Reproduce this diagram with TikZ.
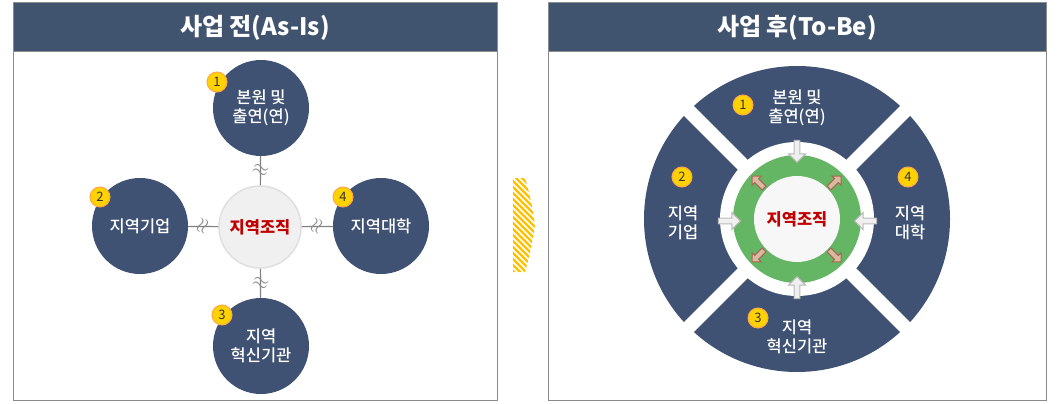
\documentclass[tikz,border=0pt]{standalone}
\usepackage{fontspec}
\setmainfont{Noto Sans CJK KR}
\newfontfamily\krmed{Noto Sans CJK KR Medium}
\usetikzlibrary{shapes.arrows}

\definecolor{navy}{HTML}{41546F}
\definecolor{ball}{HTML}{3F5273}
\definecolor{ringgreen}{HTML}{64B564}
\definecolor{kred}{HTML}{C00000}
\definecolor{gold}{HTML}{FFD200}
\definecolor{rust}{HTML}{A8664E}
\definecolor{tanfill}{HTML}{D9B9A2}
\definecolor{hatch}{HTML}{FFC000}

\tikzset{
  panel/.style={draw=gray!90, line width=1},
  head/.style={fill=navy, draw=gray!90, line width=1},
  title/.style={text=white, font=\bfseries\fontsize{24}{27}\selectfont},
  org/.style={circle, fill=ball, minimum size=96, inner sep=0, text=white, align=center, font=\krmed\fontsize{16.5}{19}\selectfont},
  hub/.style={circle, fill=gray!12, draw=gray!25, line width=1.5, minimum size=82, inner sep=0, text=kred, font=\bfseries\fontsize{16.5}{19}\selectfont},
  num/.style={circle, fill=gold, draw=orange!70, line width=1, minimum size=20, inner sep=0, text=black!80, font=\fontsize{13}{13}\selectfont},
  link/.style={draw=gray, line width=1.2},
  brk/.style={inner sep=0, text=gray!90, font=\fontsize{22}{22}\selectfont},
  seg/.style={text=white, align=center, font=\krmed\fontsize{16.5}{19}\selectfont},
  inarr/.style={single arrow, fill=gray!12, draw=gray!55, line width=1, minimum height=22, minimum width=17, single arrow head extend=3, inner sep=1},
  outarr/.style={single arrow, fill=tanfill, draw=rust, line width=1, minimum height=17, minimum width=13, single arrow head extend=2, inner sep=1}
}

\begin{document}
\begin{tikzpicture}[x=1pt,y=-1pt]
    \fill[white] (0,0) rectangle (1060,404);
    \useasboundingbox (0,0) rectangle (1060,404);

    % left panel: before
    \draw[panel] (13,52) rectangle (497,400);
    \draw[head] (13,3) rectangle (497,52);
    \node[title] (ttlA) at (255,28) {사업 전(As-Is)};

    \node[hub] (hubA) at (260,227) {지역조직};
    \node[org] (topA) at (261,108) {본원 및\\출연(연)};
    \node[org] (lftA) at (140,226) {지역기업};
    \node[org] (rgtA) at (381,226) {지역대학};
    \node[org] (botA) at (261,346) {지역\\혁신기관};

    \node[num] (n1A) at (217,82) {1};
    \node[num] (n2A) at (100,197) {2};
    \node[num] (n4A) at (343,197) {4};
    \node[num] (n3A) at (222,315) {3};

    \draw[link] (hubA) -- node[brk, rotate=-20] (b1) {$\approx$} (topA);
    \draw[link] (hubA) -- node[brk, rotate=70] (b2) {$\approx$} (lftA);
    \draw[link] (hubA) -- node[brk, rotate=70] (b4) {$\approx$} (rgtA);
    \draw[link] (hubA) -- node[brk, rotate=-20] (b3) {$\approx$} (botA);

    % hatched arrow between the panels
    \begin{scope}
      \clip (513,178) -- (525,178) .. controls (531,200) .. (535,225)
          .. controls (531,250) .. (525,272) -- (513,272) -- cycle;
      \foreach \k in {150,156,...,300}
        \draw[hatch, line width=2.2] (500,\k) -- (550,\k+50);
    \end{scope}

    % right panel: after
    \draw[panel] (548,52) rectangle (1046,400);
    \draw[head] (548,3) rectangle (1046,52);
    \node[title] (ttlB) at (797,28) {사업 후(To-Be)};

    \coordinate (cB) at (797,219);
    \fill[ball] (cB) circle [radius=153];
    \draw[white, line width=14] (cB) ++(45:165) -- ++(225:330); % X gap
    \draw[white, line width=14] (cB) ++(135:165) -- ++(315:330);
    \fill[white] (cB) circle [radius=77];
    \fill[ringgreen] (cB) circle [radius=64];
    \fill[gray!6] (cB) circle [radius=43];
    \node[text=kred, font=\bfseries\fontsize{16.5}{19}\selectfont] (hubB) at (cB) {지역조직};

    \node[seg] (topB) at (797,108) {본원 및\\출연(연)};
    \node[seg] (lftB) at (683,223) {지역\\기업};
    \node[seg] (rgtB) at (910,223) {지역\\대학};
    \node[seg] (botB) at (797,337) {지역\\혁신기관};

    \node[num] (n1B) at (743,105) {1};
    \node[num] (n2B) at (682,177) {2};
    \node[num] (n4B) at (908,177) {4};
    \node[num] (n3B) at (758,318) {3};

    \node[inarr, rotate=-90] (aT) at (797,150) {};
    \node[inarr] (aL) at (728,221) {};
    \node[inarr, rotate=180] (aR) at (867,221) {};
    \node[inarr, rotate=90] (aB) at (797,289) {};

    \node[outarr, rotate=135] (oNW) at (759,183) {};
    \node[outarr, rotate=45] (oNE) at (834,183) {};
    \node[outarr, rotate=225] (oSW) at (759,255) {};
    \node[outarr, rotate=315] (oSE) at (834,255) {};
\end{tikzpicture}
\end{document}
